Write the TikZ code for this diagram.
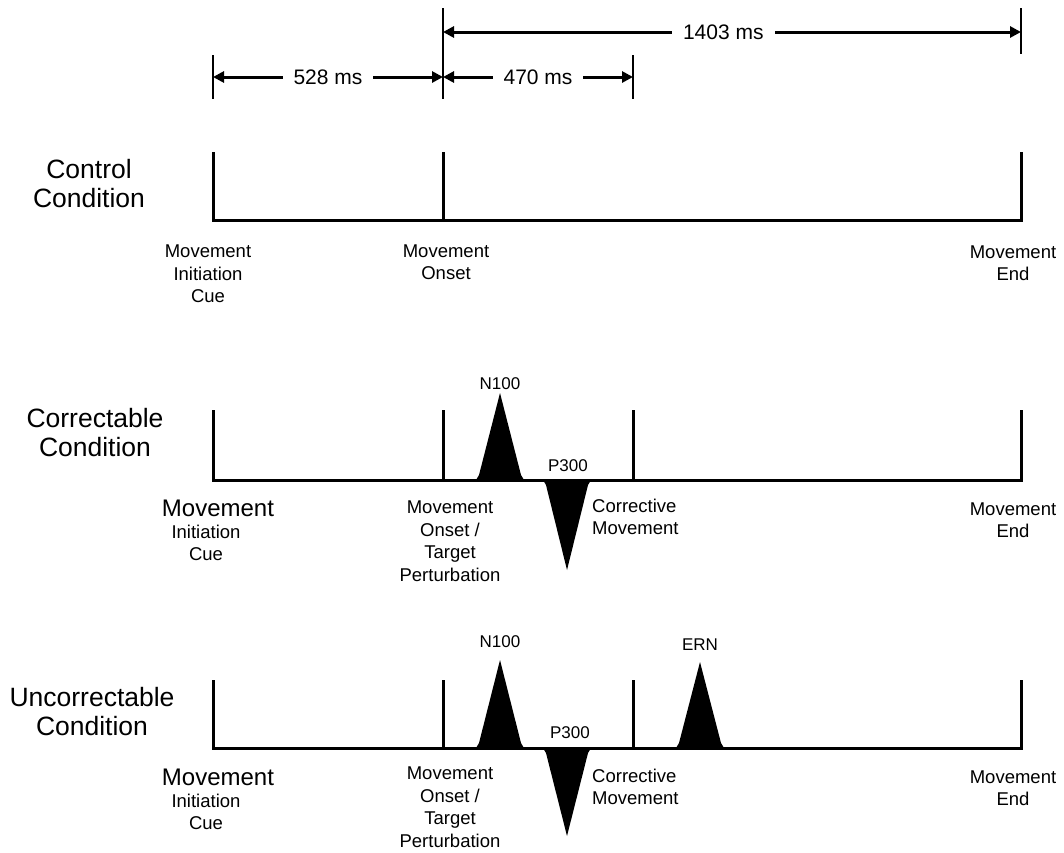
\documentclass[tikz,border=0pt]{standalone}
\usepackage{fontspec}
\setmainfont{Liberation Sans}
\usetikzlibrary{arrows.meta}

\tikzset{
  axis/.style={line width=3pt,line join=miter},
  tick/.style={line width=2pt},
  dim/.style={line width=3pt,{Triangle[length=11pt,width=11pt]}-{Triangle[length=11pt,width=11pt]}},
  dimlabel/.style={fill=white,inner xsep=11pt,font=\fontsize{21}{24}\selectfont},
  cond/.style={align=center,font=\fontsize{26.5}{29}\selectfont},
  big/.style={font=\fontsize{24}{28}\selectfont},
  lab/.style={align=center,inner sep=1pt,font=\fontsize{18.5}{22.5}\selectfont},
  peak/.style={font=\fontsize{17}{20}\selectfont},
  erp/.style={fill=black}
}

\begin{document}
\begin{tikzpicture}[x=1pt,y=-1pt]
  \useasboundingbox (0,0) rectangle (1064,852);

  % time scale at the top
  \coordinate (t0) at (213,77);
  \coordinate (t1) at (443,77);
  \coordinate (t2) at (633,77);
  \coordinate (u1) at (443,32);
  \coordinate (u3) at (1021,32);
  \draw[tick] (213,55) -- (213,99);
  \draw[tick] (443,8) -- (443,99);
  \draw[tick] (633,55) -- (633,99);
  \draw[tick] (1021,8) -- (1021,54);
  \draw[dim] (t0) -- node[dimlabel] (d528) {528 ms} (t1);
  \draw[dim] (t1) -- node[dimlabel,pos=0.5] (d470) {470 ms} (t2);
  \draw[dim] (u1) -- node[dimlabel,pos=0.485] (d1403) {1403 ms} (u3);

  % control condition
  \node[cond] (ctrl) at (89,184) {Control\\Condition};
  \draw[axis] (213,152) -- (213,220) -- (1021,220) -- (1021,152);
  \draw[axis] (443,152) -- (443,220);
  \node[lab] (ctrlcue) at (208,274) {Movement\\Initiation\\Cue};
  \node[lab] (ctrlon) at (446,262) {Movement\\Onset};
  \node[lab] (ctrlend) at (1013,263) {Movement\\End};

  % correctable condition
  \node[cond] (corr) at (95,433) {Correctable\\Condition};
  \draw[axis] (213,410) -- (213,480) -- (1021,480) -- (1021,410);
  \draw[axis] (443,410) -- (443,480);
  \draw[axis] (633,410) -- (633,480);
  \fill[erp] (476,480) -- (479,475) -- (500,393) -- (521,475) -- (524,480) -- cycle;
  \fill[erp] (543,480) -- (546,485) -- (567,570) -- (588,485) -- (591,480) -- cycle;
  \node[peak] (corrn) at (500,384) {N100};
  \node[peak] (corrp) at (568,466) {P300};
  \node[big] (corrmv) at (218,508) {Movement};
  \node[lab] (corrcue) at (206,543) {Initiation\\Cue};
  \node[lab] (corron) at (450,541) {Movement\\Onset /\\Target\\Perturbation};
  \node[lab,align=left,anchor=west] (corrfix) at (591,517) {Corrective\\Movement};
  \node[lab] (corrend) at (1013,520) {Movement\\End};

  % uncorrectable condition
  \node[cond] (unc) at (92,712) {Uncorrectable\\Condition};
  \draw[axis] (213,680) -- (213,748) -- (1021,748) -- (1021,680);
  \draw[axis] (443,680) -- (443,748);
  \draw[axis] (633,680) -- (633,748);
  \fill[erp] (476,748) -- (479,743) -- (500,660) -- (521,743) -- (524,748) -- cycle;
  \fill[erp] (543,748) -- (546,753) -- (567,836) -- (588,753) -- (591,748) -- cycle;
  \fill[erp] (676,748) -- (679,743) -- (700,662) -- (721,743) -- (724,748) -- cycle;
  \node[peak] (uncn) at (500,642) {N100};
  \node[peak] (uncp) at (570,733) {P300};
  \node[peak] (unce) at (700,645) {ERN};
  \node[big] (uncmv) at (218,777) {Movement};
  \node[lab] (unccue) at (206,812) {Initiation\\Cue};
  \node[lab] (uncon) at (450,807) {Movement\\Onset /\\Target\\Perturbation};
  \node[lab,align=left,anchor=west] (uncfix) at (591,787) {Corrective\\Movement};
  \node[lab] (uncend) at (1013,788) {Movement\\End};
\end{tikzpicture}
\end{document}
